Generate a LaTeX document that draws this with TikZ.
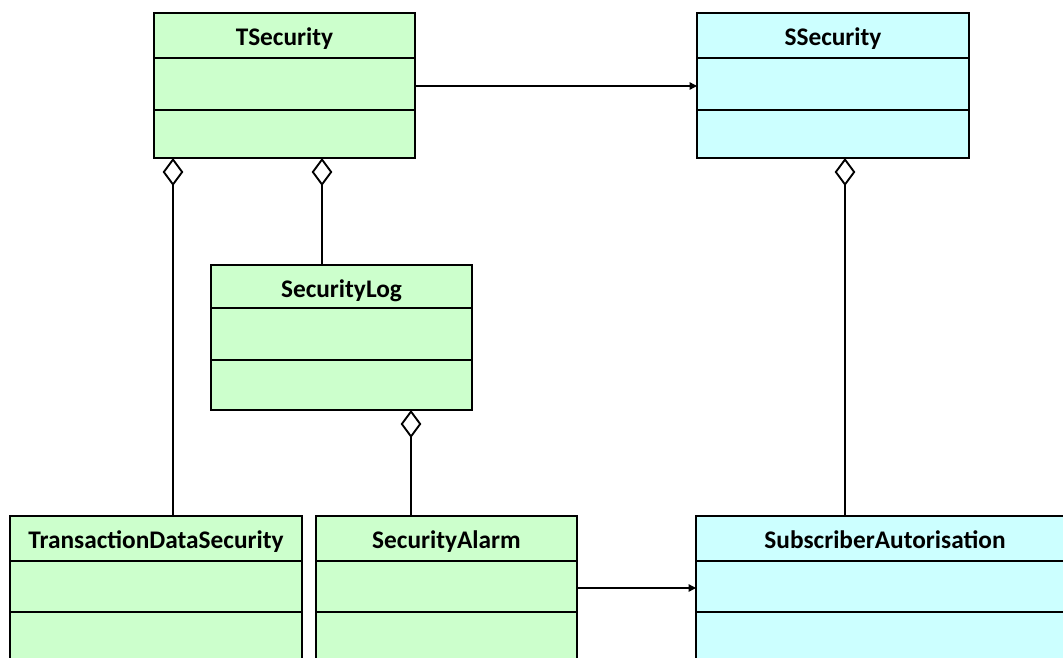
\documentclass[tikz,border=0pt]{standalone}
\usepackage{fontspec}
\setmainfont{Carlito}
\usetikzlibrary{arrows.meta,calc}
\definecolor{clsgreen}{HTML}{CCFFCC}
\definecolor{clscyan}{HTML}{CCFFFF}
\tikzset{
  classbox/.style={draw=black, line width=1.5pt, inner sep=0pt, outer sep=0pt, rectangle},
  titletext/.style={font=\bfseries\fontsize{19}{21}\selectfont, inner sep=0pt, anchor=base},
  divider/.style={line width=1.5pt},
  aggline/.style={line width=1.5pt, -{Diamond[open, length=21pt, width=15.5pt, line width=1.4pt]}},
  assocline/.style={line width=1pt, -{Triangle[length=5.5pt, width=5.5pt]}}
}
\newcommand{\umlclass}[9]{% name, x, y, w, h, title, fill, div1, div2
  \node[classbox, fill=#7, minimum width=#4*0.75pt, minimum height=#5*0.75pt, anchor=north west] (#1) at (#2,#3) {};
  \node[titletext] (#1-title) at ($(#1.north)+(0,32.5)$) {#6};
  \draw[divider] ($(#1.north west)+(0,#8)$) -- ($(#1.north east)+(0,#8)$);
  \draw[divider] ($(#1.north west)+(0,#9)$) -- ($(#1.north east)+(0,#9)$);
}
\begin{document}
\begin{tikzpicture}[x=0.75pt, y=-0.75pt]
\useasboundingbox (0,0) rectangle (1063,657);
\clip (0,0) rectangle (1063,657);
\umlclass{TSecurity}{154}{13}{261}{145}{TSecurity}{clsgreen}{44.5}{96.5}
\umlclass{SSecurity}{697}{13}{272}{145}{SSecurity}{clscyan}{44.5}{96.5}
\umlclass{SecurityLog}{211}{265}{261}{145}{SecurityLog}{clsgreen}{42.5}{95}
\umlclass{TDS}{10}{516}{292}{220}{TransactionDataSecurity}{clsgreen}{44.5}{95.5}
\umlclass{SecurityAlarm}{316}{516}{261}{220}{SecurityAlarm}{clsgreen}{44.5}{95.5}
\umlclass{SubAut}{696}{516}{378}{220}{SubscriberAutorisation}{clscyan}{44.5}{95.5}
% aggregation connectors
\coordinate (a1) at ($(TSecurity.south west)+(19,0)$);
\draw[aggline] (a1 |- TDS.north) -- (a1);
\coordinate (a2) at ($(TSecurity.south west)+(168,0)$);
\draw[aggline] (a2 |- SecurityLog.north) -- (a2);
\coordinate (a3) at ($(SecurityLog.south west)+(200,0)$);
\draw[aggline] (a3 |- SecurityAlarm.north) -- (a3);
\coordinate (a4) at ($(SSecurity.south west)+(148,0)$);
\draw[aggline] (a4 |- SubAut.north) -- (a4);
% associations
\coordinate (b1) at ($(TSecurity.north east)+(0,73)$);
\draw[assocline] (b1) -- (b1 -| SSecurity.west);
\coordinate (b2) at ($(SecurityAlarm.north east)+(0,72)$);
\draw[assocline] (b2) -- (b2 -| SubAut.west);
\end{tikzpicture}
\end{document}
